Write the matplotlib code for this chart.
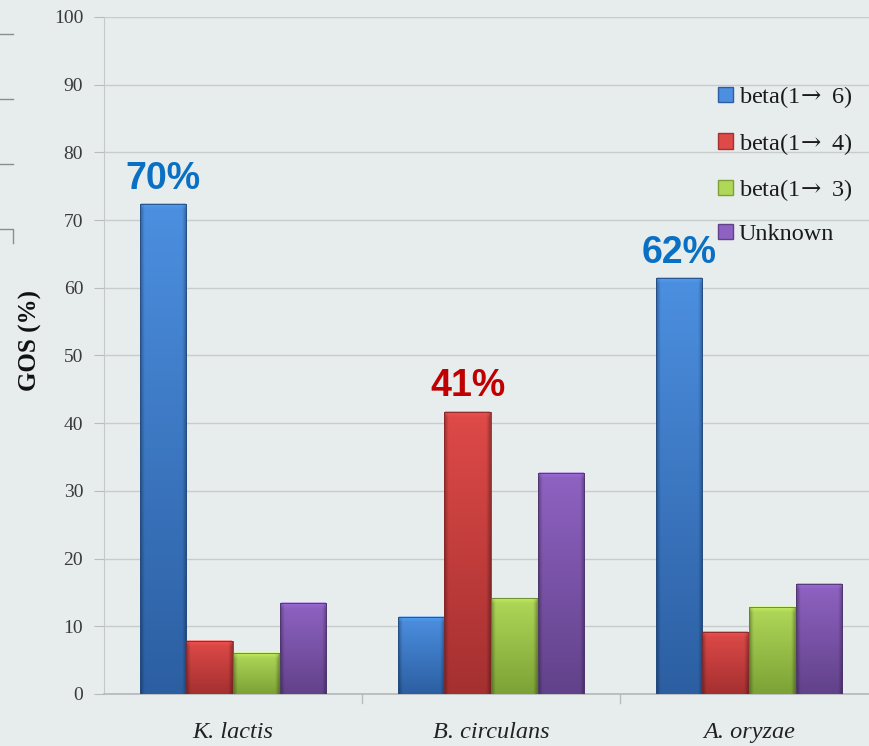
import numpy as np
import matplotlib
matplotlib.use("Agg")
import matplotlib.pyplot as plt
from matplotlib.patches import Patch
from matplotlib.lines import Line2D

# ---- data ----
categories = ["K. lactis", "B. circulans", "A. oryzae"]
series_names = ["beta(1$\\!\\rightarrow$ 6)", "beta(1$\\!\\rightarrow$ 4)",
                "beta(1$\\!\\rightarrow$ 3)", "Unknown"]
beta16 = [72.4, 11.4, 61.4]
beta14 = [7.8, 41.7, 9.2]
beta13 = [6.0, 14.2, 12.8]
unknown = [13.4, 32.6, 16.2]
highlight_text = ["70%", "41%", "62%"]
highlight_series = [0, 1, 0]
highlight_colors = ["#0a70c4", "#c00000", "#0a70c4"]
y_ticks = list(range(0, 101, 10))

series = [beta16, beta14, beta13, unknown]
top_colors = ["#4c8fe0", "#de4a48", "#b0d858", "#8e62c2"]
bot_colors = ["#2c5fa2", "#a53030", "#7ca236", "#62428a"]

BG = "#e7ecec"
plt.rcParams["mathtext.fontset"] = "dejavuserif"

fig = plt.figure(figsize=(8.69, 7.46), dpi=100, facecolor=BG)
ax = fig.add_axes([104 / 869, 52 / 746, 774 / 869, 677 / 746], facecolor=BG)

n_series = len(series)
bar_w = 0.181
x = np.arange(len(categories))


def hex2rgb(h):
    h = h.lstrip("#")
    return np.array([int(h[i:i + 2], 16) / 255 for i in (0, 2, 4)])


bars_all = []
for s, vals in enumerate(series):
    offs = (s - (n_series - 1) / 2) * bar_w
    bars = ax.bar(x + offs, vals, width=bar_w, color="none",
                  edgecolor="none", zorder=3)
    bars_all.append(bars)
    c_top, c_bot = hex2rgb(top_colors[s]), hex2rgb(bot_colors[s])
    for b, v in zip(bars, vals):
        x0 = b.get_x()
        x1 = x0 + b.get_width()
        # vertical gradient with darker side edges
        rows, cols = 64, 24
        t = np.linspace(0, 1, rows)[:, None, None]
        img = c_top * (1 - t) + c_bot * t
        img = np.repeat(img, cols, axis=1)
        shade = np.ones(cols)
        shade[0] = shade[-1] = 0.72
        shade[1] = shade[-2] = 0.88
        img = np.clip(img * shade[None, :, None], 0, 1)
        im = ax.imshow(img, extent=[x0, x1, 0, v], aspect="auto",
                       interpolation="bilinear", zorder=3, origin="upper")
        im.set_clip_path(b)
        # light bevel on the top edge
        bev_h = 0.9
        bev = np.repeat(np.linspace(1.0, 0.0, 8)[:, None], cols, axis=1)
        bev_img = np.zeros((8, cols, 4))
        bev_img[..., :3] = np.clip(c_top * 1.18, 0, 1)
        bev_img[..., 3] = 0.55 * bev
        ax.imshow(bev_img, extent=[x0 + 0.004, x1 - 0.004, v - bev_h, v],
                  aspect="auto", interpolation="bilinear", zorder=4,
                  origin="upper")
        ax.add_patch(plt.Rectangle((x0, 0), x1 - x0, v, fill=False,
                                   edgecolor=np.clip(c_bot * 0.8, 0, 1),
                                   linewidth=0.6, zorder=5))

ax.set_xlim(-0.5, len(categories) - 0.5)
ax.set_ylim(0, 100)

# grid and axes styling
ax.set_yticks(y_ticks)
ax.yaxis.grid(True, color="#c9cccc", linewidth=1.0, zorder=0)
ax.set_axisbelow(True)
for side in ("top", "right"):
    ax.spines[side].set_visible(False)
ax.spines["left"].set_color("#c4c8c8")
ax.spines["bottom"].set_color("#b4b8b8")
ax.spines["bottom"].set_linewidth(1.2)
ax.tick_params(axis="y", length=7, color="#b8bcbc", pad=8,
               labelsize=14, labelcolor="#3a3a3a")
ax.set_yticklabels([str(v) for v in y_ticks], family="Liberation Serif")

ax.set_xticks(x)
ax.set_xticklabels(categories, family="Liberation Serif", style="italic",
                   fontsize=17.5, color="#222222")
ax.tick_params(axis="x", length=0, pad=20)
for bnd in x[:-1] + 0.5:
    ax.plot([bnd, bnd], [0, -1.3], color="#b8bcbc", lw=1.0,
            clip_on=False, zorder=2)

ax.set_ylabel("GOS (%)", family="Liberation Serif", fontweight="bold",
              fontsize=18, color="#111111")
ax.yaxis.set_label_coords(-62 / 774, (694 - 341) / 677)

# highlighted values above the leading bars
for i, (txt, s, col) in enumerate(zip(highlight_text, highlight_series,
                                      highlight_colors)):
    b = bars_all[s][i]
    ax.annotate(txt, (b.get_x() + b.get_width() / 2, b.get_height()),
                xytext=(0, 11), textcoords="offset points",
                ha="center", va="baseline", fontsize=27,
                fontweight="bold", family="Liberation Sans", color=col,
                zorder=6)

# legend
handles = [Patch(facecolor=top_colors[i], edgecolor=bot_colors[i],
                 label=series_names[i]) for i in range(n_series)]
leg = fig.legend(handles=handles, loc="upper left",
                 bbox_to_anchor=(706 / 869, 1 - 72 / 746),
                 frameon=False, prop={"family": "Liberation Serif",
                                      "size": 17.5},
                 handlelength=0.6, handleheight=0.6, handletextpad=0.25,
                 labelspacing=0.85, borderpad=0)
for t in leg.get_texts():
    t.set_color("#1a1a1a")

# stray marks at the left edge of the slide
grey = "#8a8e8e"
W, H = 869, 746
for yp in (34, 99, 164):
    fig.add_artist(Line2D([0, 13 / W], [1 - yp / H, 1 - yp / H],
                          color=grey, lw=1.0))
fig.add_artist(Line2D([0, 13 / W, 13 / W],
                      [1 - 229 / H, 1 - 229 / H, 1 - 243 / H],
                      color=grey, lw=1.0))

fig.savefig("out.png", dpi=100, facecolor=BG)
